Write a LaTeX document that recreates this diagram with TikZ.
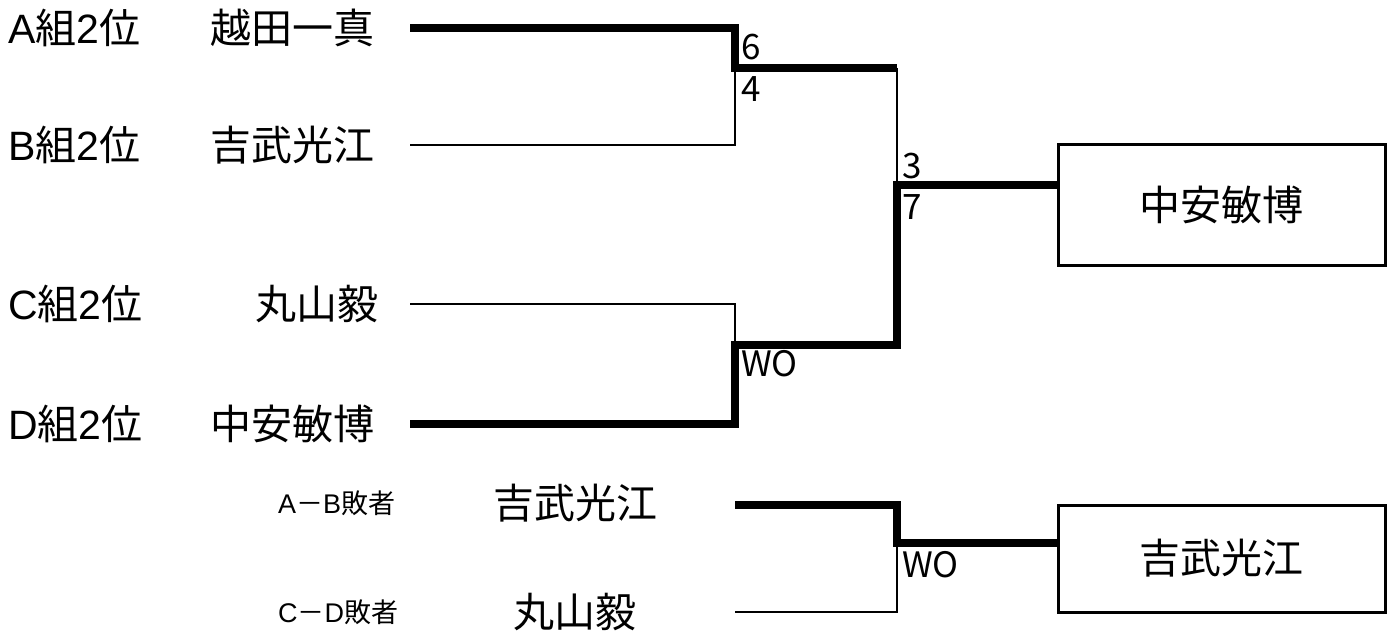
\documentclass[tikz,border=0pt]{standalone}
\usepackage{fontspec}
\setmainfont{Noto Sans CJK JP}
\newfontfamily\lt{Liberation Sans}
\begin{document}
\begin{tikzpicture}[x=1bp,y=-1bp,
  every node/.style={inner sep=0pt,outer sep=0pt},
  grp/.style={anchor=west,font=\fontsize{41bp}{42bp}\selectfont},
  pname/.style={anchor=east,font=\fontsize{41bp}{42bp}\selectfont},
  bname/.style={font=\fontsize{41bp}{42bp}\selectfont},
  small/.style={anchor=west,font=\fontsize{27bp}{28bp}\selectfont},
  score/.style={anchor=west,font=\fontsize{35bp}{37bp}\selectfont},
  thickln/.style={line width=8bp,line join=miter},
  thinln/.style={line width=2.6bp,line join=miter},
  resbox/.style={draw,line width=3bp,minimum width=327bp,minimum height=120bp,font=\fontsize{41bp}{42bp}\selectfont}]
\useasboundingbox (0,0) rectangle (1389,636);

% left labels
\node[grp] (ga) at (8,28) {{\lt A}組{\lt 2}位};
\node[grp] (gb) at (8,145) {{\lt B}組{\lt 2}位};
\node[grp] (gc) at (8,304) {{\lt C}組{\lt 2}位};
\node[grp] (gd) at (8,424) {{\lt D}組{\lt 2}位};
\node[pname] (pa) at (374,28) {越田一真};
\node[pname] (pb) at (374,145) {吉武光江};
\node[pname] (pc) at (378,304) {丸山毅};
\node[pname] (pd) at (374,424) {中安敏博};

% bracket points
\coordinate (a0) at (410,28);
\coordinate (a1) at (735,28);
\coordinate (b0) at (410,145);
\coordinate (b1) at (735,145);
\coordinate (ab) at (735,68);
\coordinate (abr) at (897,68);
\coordinate (c0) at (410,304);
\coordinate (c1) at (735,304);
\coordinate (d0) at (410,424);
\coordinate (d1) at (735,424);
\coordinate (cd) at (735,345);
\coordinate (cdr) at (897,345);
\coordinate (f) at (897,185);

\node[resbox] (w1) at (1221.5,205) {中安敏博};

\draw[thickln] (a0) -- (a1) -- (ab) -- (abr);
\draw[thinln] (ab) -- (b1) -- (b0);
\draw[thinln] (abr) -- (f);
\draw[thickln] (d0) -- (d1) -- (cd) -- (cdr) -- (f) -- (f -| w1.west);
\draw[thinln] (cd) -- (c1) -- (c0);

\node[score] (s6) at (741,47) {6};
\node[score] (s4) at (741,89) {4};
\node[score] (s3) at (902,166) {3};
\node[score] (s7) at (902,207) {7};
\node[score] (s1) at (741,364) {WO};

% lower bracket
\node[small] (lab) at (278,503) {{\lt A}－{\lt B}敗者};
\node[small] (lcd) at (278,612) {{\lt C}－{\lt D}敗者};
\node[bname] (qa) at (575,503) {吉武光江};
\node[bname] (qb) at (575,612) {丸山毅};

\coordinate (e0) at (735,505);
\coordinate (e1) at (897,505);
\coordinate (e2) at (897,543);
\coordinate (h0) at (735,612);
\coordinate (h1) at (897,612);

\node[resbox,minimum height=107bp] (w2) at (1221.5,558.5) {吉武光江};

\draw[thickln] (e0) -- (e1) -- (e2) -- (e2 -| w2.west);
\draw[thinln] (e2) -- (h1) -- (h0);
\node[score] (s2) at (902,565) {WO};
\end{tikzpicture}
\end{document}
